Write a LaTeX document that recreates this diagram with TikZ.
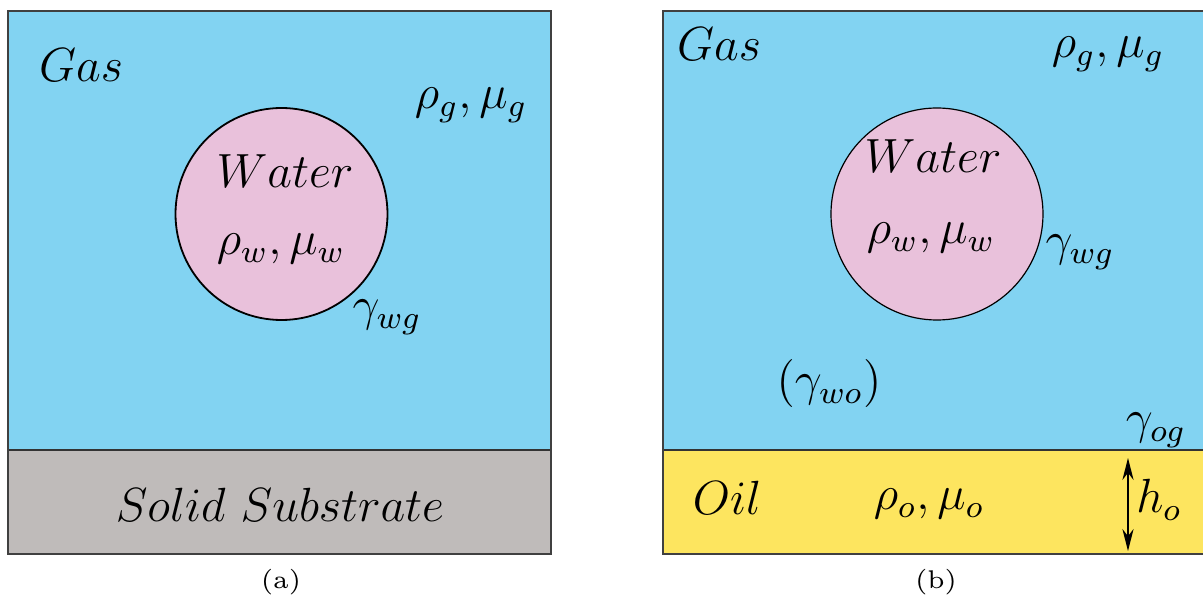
\documentclass[tikz,border=0pt]{standalone}
\usepackage{tikz}
\usetikzlibrary{arrows.meta}
\definecolor{gasblue}{RGB}{130,211,242}
\definecolor{waterpink}{RGB}{233,193,219}
\definecolor{solidgray}{RGB}{191,187,186}
\definecolor{oilyellow}{RGB}{253,229,95}
\tikzset{
  phase/.style={font=\fontsize{11.6}{14}\selectfont, anchor=base, inner sep=0pt},
  subcap/.style={font=\fontsize{6.4}{8}\selectfont, anchor=base, inner sep=0pt}
}

\begin{document}
\begin{tikzpicture}[x=0.25pt, y=-0.25pt]
			%%%%% START %%%%%
			\useasboundingbox (0, 0) rectangle (1203, 599);
			
			% (a) gas over a solid substrate
			\fill[gasblue] (8, 11) rectangle (551, 450);
			\fill[solidgray] (8, 450) rectangle (551, 554);
			\draw[line width=0.5pt, color=black!80] (8, 450) -- (551, 450);
			\draw[line width=0.6pt, color=black!75] (8, 11) rectangle (551, 554);
			\draw[line width=0.45pt, fill=waterpink] (281.5, 214) circle (106);
			
			\node[phase] (gasA) at (81, 82) {$Gas$};
			\node[phase] (propgA) at (471, 109) {$\rho_g, \mu_g$};
			\node[phase] (waterA) at (285, 188) {$Water$};
			\node[phase] (propwA) at (281, 255) {$\rho_w, \mu_w$};
			\node[phase] (gamwgA) at (387, 321) {$\gamma_{wg}$};
			\node[phase] (solid) at (280, 522) {$Solid\ Substrate$};
			
			% (b) gas over a thin oil film
			\fill[gasblue] (663, 11) rectangle (1206, 450);
			\fill[oilyellow] (663, 450) rectangle (1206, 554);
			\draw[line width=0.5pt, color=black!80] (663, 450) -- (1206, 450);
			\draw[line width=0.6pt, color=black!75] (663, 11) rectangle (1206, 554);
			\draw[line width=0.3pt, fill=waterpink] (937, 214) circle (106);
			
			\node[phase] (gasB) at (719, 61) {$Gas$};
			\node[phase] (propgB) at (1108, 58) {$\rho_g, \mu_g$};
			\node[phase] (waterB) at (933, 173) {$Water$};
			\node[phase] (propwB) at (931, 244) {$\rho_w, \mu_w$};
			\node[phase] (gamwgB) at (1080, 256) {$\gamma_{wg}$};
			\node[phase] (gamwo) at (829, 396) {$(\gamma_{wo})$};
			\node[phase] (gamog) at (1156, 434) {$\gamma_{og}$};
			\node[phase] (oil) at (727, 515) {$Oil$};
			\node[phase] (propo) at (929, 510) {$\rho_o, \mu_o$};
			\node[phase] (hoil) at (1159, 513) {$h_o$};
			
			\coordinate (htop) at (1128, 458);
			\coordinate (hbot) at (1128, 551);
			\draw[line width=0.35pt, {Stealth[length=5.5pt, width=2.8pt]}-{Stealth[length=5.5pt, width=2.8pt]}] (htop) -- (hbot);
			
			\node[subcap] (capA) at (281, 589) {(a)};
			\node[subcap] (capB) at (936, 589) {(b)};
			%%%%% END %%%%%
\end{tikzpicture}
\end{document}
